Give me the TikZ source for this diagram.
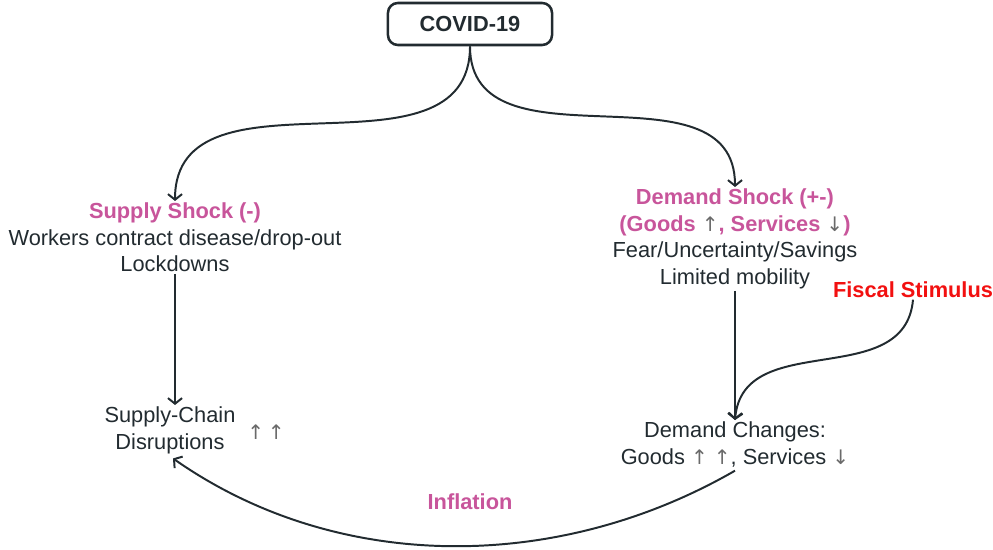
\documentclass[tikz,border=0pt]{standalone}
\usepackage{xcolor}
\usepackage{fontspec}
\setmainfont{Liberation Sans}
\newfontfamily\arrowfont[Scale=0.92]{DejaVu Sans}
\usepackage{tikz}
\usetikzlibrary{arrows.meta, positioning, calc}
\definecolor{inkdark}{HTML}{222B30}
\definecolor{shockpink}{HTML}{C8559B}
\definecolor{stimred}{HTML}{F21010}
\definecolor{arrowgray}{HTML}{6A6A6A}
\newcommand{\upar}{{\color{arrowgray}\arrowfont\mdseries ↑}}
\newcommand{\dnar}{{\color{arrowgray}\arrowfont\mdseries ↓}}
\tikzstyle{startbox} = [rectangle, rounded corners=7pt, draw=inkdark, line width=1.8pt, minimum width=4.1cm, minimum height=1.05cm, text centered, font=\fontsize{15.5}{18}\selectfont\bfseries, text=inkdark]
\tikzstyle{block} = [align=center, text=inkdark, inner sep=1pt, font=\fontsize{15.5}{19}\selectfont]
\tikzstyle{arrow} = [line width=1.4pt, draw=inkdark, -{Straight Barb[length=4pt, width=10pt, line width=1.4pt]}]

\begin{document}
\begin{tikzpicture}[x=0.025cm, y=-0.025cm]
    \useasboundingbox (0,0) rectangle (993,550);
    % Nodes
    \node[startbox] (covid) at (470,24) {COVID-19};
    \node[block, anchor=north] (supply) at (175,201) {{\color{shockpink}\bfseries Supply Shock (-)}\\Workers contract disease/drop-out\\Lockdowns};
    \node[block, anchor=north] (demand) at (735,187) {{\color{shockpink}\bfseries Demand Shock (+-)}\\{\color{shockpink}\bfseries (Goods \upar, Services \dnar)}\\Fear/Uncertainty/Savings\\Limited mobility};
    \node[block, anchor=north] (chain) at (170,405) {Supply-Chain\\Disruptions};
    \node[block] (double) at (266,432) {\upar\,\upar};
    \node[block, anchor=north] (changes) at (735,420) {Demand Changes:\\Goods \upar\ \upar, Services \dnar};
    \node[block, text=stimred, font=\fontsize{15.5}{18}\selectfont\bfseries] (fiscal) at (913,290) {Fiscal Stimulus};
    \node[block, text=shockpink, font=\fontsize{15.5}{18}\selectfont\bfseries] (infl) at (470,502) {Inflation};

    % Arrows
    \draw[arrow] (covid.south) to[out=-90, in=90, looseness=1.1] (supply.north);
    \draw[arrow] (covid.south) to[out=-90, in=90, looseness=1.1] (demand.north);
    \draw[arrow] (supply.south) -- (supply.south |- chain.north);
    \draw[arrow] (demand.south) -- (changes.north);
    \draw[arrow] (fiscal.south) to[out=-95, in=85, looseness=1.1] (changes.north);

    % Inflation loop
    \draw[arrow] ($(changes.south)+(0,2)$) to[out=-150, in=-35, looseness=0.92] ($(chain.south)+(3,3)$);
\end{tikzpicture}
\end{document}
